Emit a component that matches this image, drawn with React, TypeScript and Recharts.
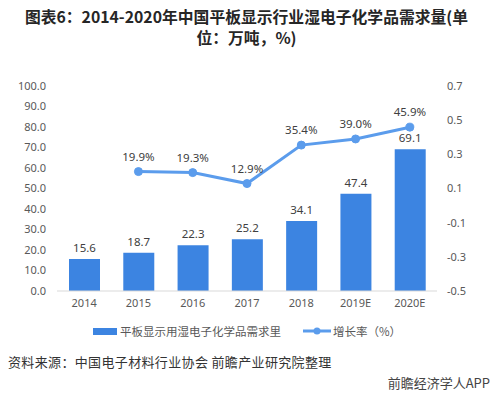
import { ComposedChart, Bar, Line, XAxis, YAxis, LabelList } from 'recharts';

const years = ['2014', '2015', '2016', '2017', '2018', '2019E', '2020E'];
const demand = [15.6, 18.7, 22.3, 25.2, 34.1, 47.4, 69.1];
const growthPct: (number | null)[] = [null, 19.9, 19.3, 12.9, 35.4, 39.0, 45.9];
const leftTicks = [0, 10, 20, 30, 40, 50, 60, 70, 80, 90, 100];
const rightTicks = [-0.5, -0.3, -0.1, 0.1, 0.3, 0.5, 0.7];

const BAR_COLOR = '#3c84e1';
const LINE_COLOR = '#5b9cec';
const FONT = '"Noto Sans", "Noto Sans CJK SC", sans-serif';
const CJK = '"Noto Sans CJK SC", sans-serif';

const data = years.map((year, i) => ({
  year,
  demand: demand[i],
  growth: growthPct[i] == null ? null : (growthPct[i] as number) / 100,
}));

const titleLine = {
  position: 'absolute' as const,
  left: 0,
  width: 493,
  textAlign: 'center' as const,
  fontWeight: 'bold' as const,
  fontSize: 15.8,
  lineHeight: '16px',
  color: '#262626',
  fontFamily: CJK,
};

export default function App() {
  const tick = { fontSize: 11, fill: '#595959', fontFamily: FONT };

  return (
    <div
      style={{
        position: 'absolute',
        left: 0,
        top: 0,
        width: 493,
        height: 394,
        background: '#fff',
        overflow: 'hidden',
        fontFamily: FONT,
      }}
    >
      <div style={{ ...titleLine, top: 9 }}>图表6：2014-2020年中国平板显示行业湿电子化学品需求量(单</div>
      <div style={{ ...titleLine, top: 30 }}>位：万吨，%)</div>

      <div style={{ position: 'absolute', left: 0, top: 0 }}>
        <ComposedChart
          width={493}
          height={345}
          data={data}
          margin={{ top: 86, right: 16, left: 27, bottom: 24 }}
        >
          <XAxis
            dataKey="year"
            tick={tick}
            tickLine={false}
            axisLine={{ stroke: '#d9d9d9' }}
            height={30}
          />
          <YAxis
            yAxisId="left"
            domain={[0, 100]}
            ticks={leftTicks}
            tickFormatter={(v: number) => v.toFixed(1)}
            tick={tick}
            tickLine={false}
            axisLine={false}
            tickMargin={5}
            width={30}
            interval={0}
          />
          <YAxis
            yAxisId="right"
            orientation="right"
            domain={[-0.5, 0.7]}
            ticks={rightTicks}
            tickFormatter={(v: number) => v.toFixed(1)}
            tick={tick}
            tickLine={false}
            axisLine={false}
            tickMargin={4}
            width={40}
            interval={0}
          />
          <Bar yAxisId="left" dataKey="demand" fill={BAR_COLOR} barSize={31} isAnimationActive={false}>
            <LabelList
              dataKey="demand"
              position="top"
              offset={7}
              style={{ fontSize: 11.5, fill: '#404040', fontFamily: FONT }}
              formatter={(v: any) => Number(v).toFixed(1)}
            />
          </Bar>
          <Line
            yAxisId="right"
            dataKey="growth"
            stroke={LINE_COLOR}
            strokeWidth={3}
            dot={{ r: 4, fill: LINE_COLOR, stroke: LINE_COLOR, strokeWidth: 1 }}
            connectNulls={false}
            isAnimationActive={false}
          >
            <LabelList
              dataKey="growth"
              position="top"
              offset={11}
              style={{ fontSize: 11.5, fill: '#404040', fontFamily: FONT }}
              formatter={(v: any) => (v == null ? '' : (Number(v) * 100).toFixed(1) + '%')}
            />
          </Line>
        </ComposedChart>
      </div>

      <div
        style={{
          position: 'absolute',
          top: 324,
          left: 93,
          display: 'flex',
          alignItems: 'center',
          fontSize: 11.5,
          color: '#595959',
          fontFamily: CJK,
          lineHeight: '14px',
        }}
      >
        <span style={{ display: 'inline-block', width: 24, height: 7, background: BAR_COLOR, marginRight: 3 }} />
        <span>平板显示用湿电子化学品需求里</span>
        <span style={{ display: 'inline-block', width: 22 }} />
        <svg width={28} height={10} style={{ marginRight: 2 }}>
          <line x1={0} y1={5} x2={28} y2={5} stroke={LINE_COLOR} strokeWidth={3} />
          <circle cx={14} cy={5} r={3.5} fill={LINE_COLOR} />
        </svg>
        <span>增长率（%）</span>
      </div>

      <div
        style={{
          position: 'absolute',
          top: 354,
          left: 8,
          fontSize: 13,
          letterSpacing: 0.35,
          color: '#333',
          fontFamily: CJK,
          lineHeight: '16px',
        }}
      >
        资料来源：中国电子材料行业协会 前瞻产业研究院整理
      </div>

      <div
        style={{
          position: 'absolute',
          top: 375,
          right: 3,
          fontSize: 13,
          color: '#444',
          fontFamily: CJK,
          lineHeight: '15px',
        }}
      >
        前瞻经济学人APP
      </div>
    </div>
  );
}
